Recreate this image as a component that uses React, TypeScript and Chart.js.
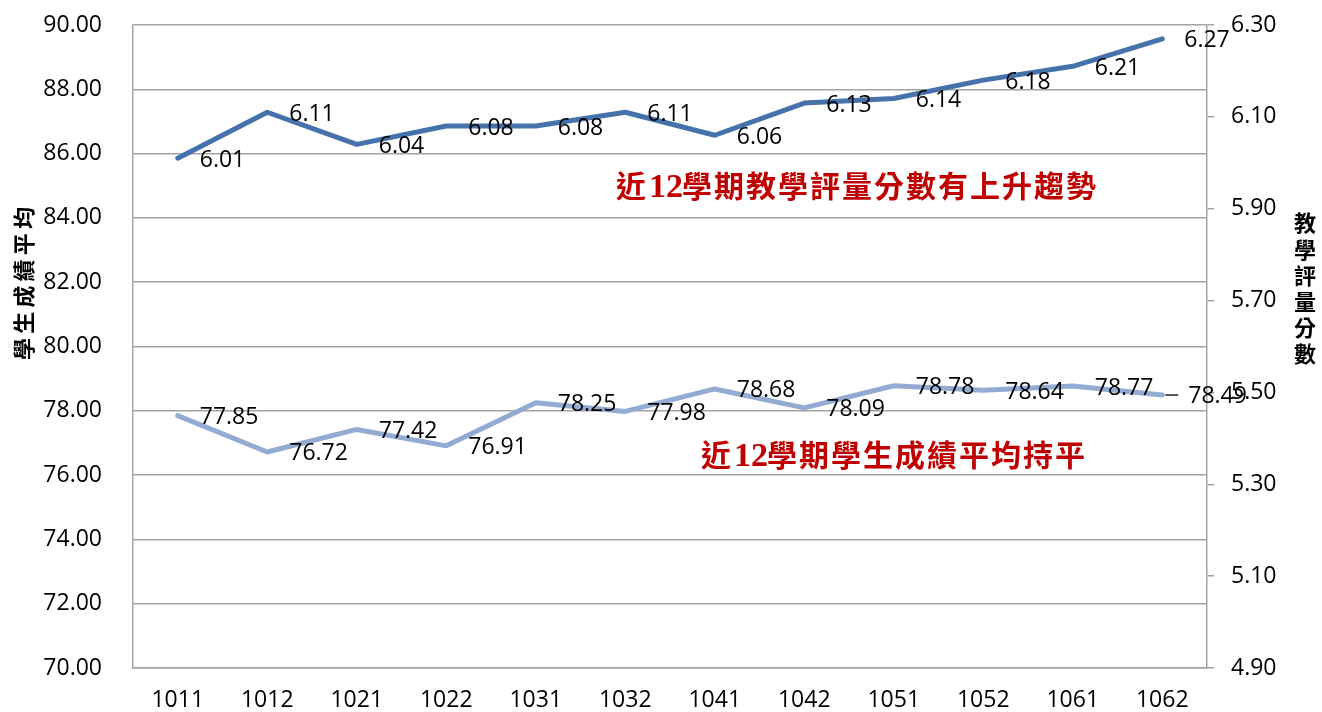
import React, { useEffect, useRef } from 'react';
import { Chart, registerables } from 'chart.js';

Chart.register(...registerables);

const semesters = ['1011', '1012', '1021', '1022', '1031', '1032', '1041', '1042', '1051', '1052', '1061', '1062'];
const evalScores = [6.01, 6.11, 6.04, 6.08, 6.08, 6.11, 6.06, 6.13, 6.14, 6.18, 6.21, 6.27];
const studentAvg = [77.85, 76.72, 77.42, 76.91, 78.25, 77.98, 78.68, 78.09, 78.78, 78.64, 78.77, 78.49];
const leftTickValues = [70, 72, 74, 76, 78, 80, 82, 84, 86, 88, 90];
const rightTickValues = [4.9, 5.1, 5.3, 5.5, 5.7, 5.9, 6.1, 6.3];
const leftTitle = '學生成績平均';
const rightTitle = '教學評量分數';
const noteEval = '近12學期教學評量分數有上升趨勢';
const noteStudent = '近12學期學生成績平均持平';

const TICK_FONT = '"Open Sans", "Liberation Sans", sans-serif';
const CJK_FONT = '"Noto Sans CJK TC", sans-serif';
const GRID = '#a3a3a3';
const DARK = '#4672ab';
const LIGHT = '#93aad3';
const RED = '#c00000';
const FS = 23;

function drawNote(ctx: CanvasRenderingContext2D, text: string, x: number, cy: number) {
  let cx = x;
  for (const ch of Array.from(text)) {
    if (/[0-9]/.test(ch)) {
      ctx.font = 'bold 34px "Liberation Serif", serif';
      ctx.textBaseline = 'alphabetic';
      ctx.fillText(ch, cx, cy + 11);
      cx += ctx.measureText(ch).width;
    } else {
      ctx.font = `bold 30px ${CJK_FONT}`;
      ctx.textBaseline = 'middle';
      ctx.fillText(ch, cx - 1, cy);
      cx += 32;
    }
  }
}

const extrasPlugin = {
  id: 'extras',
  afterDatasetsDraw(chart: any) {
    const ctx: CanvasRenderingContext2D = chart.ctx;
    ctx.save();
    ctx.fillStyle = '#000';
    ctx.font = `${FS}px ${TICK_FONT}`;
    ctx.textBaseline = 'middle';

    // y tick labels
    const yl = chart.scales.yLeft;
    ctx.textAlign = 'right';
    leftTickValues.forEach((v) => {
      ctx.fillText(v.toFixed(2), 102, yl.getPixelForValue(v));
    });
    const yr = chart.scales.yRight;
    ctx.textAlign = 'left';
    rightTickValues.forEach((v) => {
      ctx.fillText(v.toFixed(2), 1231, yr.getPixelForValue(v));
    });

    // data labels
    ctx.textAlign = 'left';
    chart.data.datasets.forEach((ds: any, di: number) => {
      const meta = chart.getDatasetMeta(di);
      meta.data.forEach((pt: any, i: number) => {
        const v = ds.data[i] as number;
        const isLastLight = di === 1 && i === ds.data.length - 1;
        if (isLastLight) {
          ctx.strokeStyle = '#222';
          ctx.lineWidth = 1.5;
          ctx.beginPath();
          ctx.moveTo(pt.x + 3, pt.y);
          ctx.lineTo(pt.x + 16, pt.y);
          ctx.stroke();
          ctx.fillText(v.toFixed(2), pt.x + 26, pt.y + 1);
        } else {
          ctx.fillText(v.toFixed(2), pt.x + 22, pt.y + 2);
        }
      });
    });

    // axis titles
    ctx.font = `bold 22px ${CJK_FONT}`;
    ctx.textAlign = 'center';
    ctx.textBaseline = 'middle';
    Array.from(leftTitle).forEach((ch, i) => {
      ctx.save();
      ctx.translate(24, 349 - i * 26.2);
      ctx.rotate(-Math.PI / 2);
      ctx.fillText(ch, 0, 0);
      ctx.restore();
    });
    Array.from(rightTitle).forEach((ch, i) => {
      ctx.fillText(ch, 1305, 223 + i * 26.2);
    });

    // annotations
    ctx.fillStyle = RED;
    ctx.textAlign = 'left';
    drawNote(ctx, noteEval, 617, 186);
    drawNote(ctx, noteStudent, 702, 455);
    ctx.restore();
  },
};

export default function App() {
  const ref = useRef<HTMLCanvasElement>(null);
  useEffect(() => {
    if (!ref.current) return;
    const chart = new Chart(ref.current, {
      type: 'line',
      data: {
        labels: semesters,
        datasets: [
          {
            label: rightTitle,
            data: evalScores,
            yAxisID: 'yRight',
            borderColor: DARK,
            backgroundColor: DARK,
            borderWidth: 5,
            pointRadius: 0,
            tension: 0,
            borderCapStyle: 'round',
            borderJoinStyle: 'round',
          },
          {
            label: leftTitle,
            data: studentAvg,
            yAxisID: 'yLeft',
            borderColor: LIGHT,
            backgroundColor: LIGHT,
            borderWidth: 5,
            pointRadius: 0,
            tension: 0,
            borderCapStyle: 'round',
            borderJoinStyle: 'round',
          },
        ],
      },
      options: {
        responsive: false,
        animation: false,
        layout: { padding: { top: 25, left: 0, right: 0, bottom: 0 } },
        plugins: { legend: { display: false }, tooltip: { enabled: false } },
        scales: {
          x: {
            offset: true,
            grid: { display: true, drawOnChartArea: false, drawTicks: false, offset: true },
            border: { display: true, color: GRID, width: 1.5 },
            ticks: { color: '#000', font: { family: TICK_FONT, size: FS }, padding: 19, maxRotation: 0 },
            afterFit: (s: any) => { s.height = 44; },
          },
          yLeft: {
            position: 'left',
            min: 70,
            max: 90,
            afterBuildTicks: (s: any) => { s.ticks = leftTickValues.map((v) => ({ value: v })); },
            grid: { color: GRID, lineWidth: 1.5, drawTicks: false },
            border: { display: true, color: GRID, width: 1.5 },
            ticks: { display: false },
            afterFit: (s: any) => { s.width = 133; },
          },
          yRight: {
            position: 'right',
            min: 4.9,
            max: 6.3,
            afterBuildTicks: (s: any) => { s.ticks = rightTickValues.map((v) => ({ value: v })); },
            grid: { color: GRID, lineWidth: 1.5, drawOnChartArea: false, drawTicks: true, tickLength: 7 },
            border: { display: true, color: GRID, width: 1.5 },
            ticks: { display: false },
            afterFit: (s: any) => { s.width = 115; },
          },
        },
      },
      plugins: [extrasPlugin],
    });
    return () => chart.destroy();
  }, []);
  return (
    <div style={{ position: 'fixed', left: 0, top: 0, width: 1322, height: 712, background: '#fff' }}>
      <canvas ref={ref} width={1322} height={712} style={{ display: 'block' }} />
    </div>
  );
}
